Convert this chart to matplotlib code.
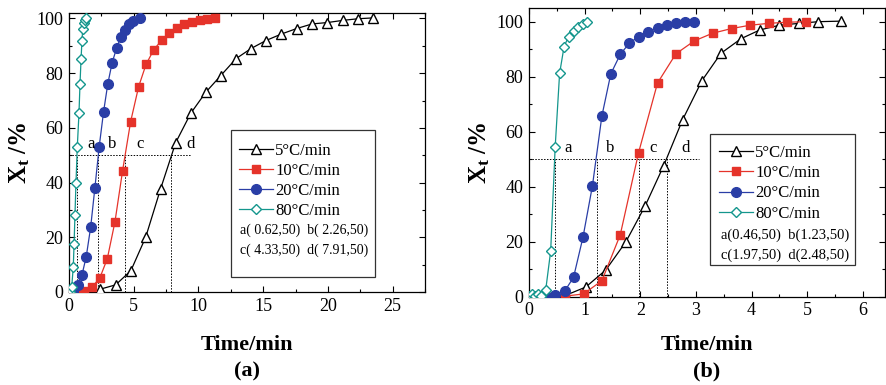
import matplotlib
matplotlib.use('Agg')
import matplotlib.pyplot as plt
from matplotlib.patches import Rectangle
from matplotlib.ticker import MultipleLocator

plt.rcParams['font.family'] = ['Liberation Serif', 'DejaVu Serif']
plt.rcParams['mathtext.fontset'] = 'custom'
plt.rcParams['mathtext.rm'] = 'Liberation Serif'
plt.rcParams['mathtext.bf'] = 'Liberation Serif:bold'
plt.rcParams['mathtext.it'] = 'Liberation Serif:italic'

# ---- data, panel (a)
t5a = [2.39, 3.6, 4.78, 5.92, 7.08, 8.24, 9.4, 10.56, 11.72, 12.9, 14.06, 15.2,
       16.4, 17.58, 18.78, 19.96, 21.16, 22.34, 23.5]
x5a = [1.0, 2.6, 7.8, 20.0, 37.8, 54.6, 65.3, 73.0, 79.1, 85.3, 89.0, 91.9,
       94.3, 96.3, 98.0, 98.5, 99.3, 99.9, 100.2]
t10a = [0.58, 1.16, 1.75, 2.37, 2.96, 3.55, 4.14, 4.76, 5.38, 5.95, 6.54, 7.16,
        7.74, 8.33, 8.92, 9.51, 10.1, 10.68, 11.3]
x10a = [0.0, 0.5, 1.7, 5.0, 12.2, 25.7, 44.4, 62.3, 75.1, 83.2, 88.5, 92.1,
        94.8, 96.5, 97.8, 98.7, 99.4, 99.9, 100.0]
t20a = [0.33, 0.67, 1.0, 1.33, 1.67, 2.0, 2.33, 2.67, 3.0, 3.33, 3.68, 3.99,
        4.32, 4.66, 4.97, 5.48]
x20a = [0.5, 2.6, 6.2, 12.9, 23.6, 38.1, 53.1, 65.9, 76.2, 83.8, 89.2, 93.1,
        95.8, 98.0, 99.2, 100.0]
t80a = [0.08, 0.21, 0.33, 0.39, 0.46, 0.54, 0.64, 0.77, 0.85, 0.93, 1.0, 1.06,
        1.16, 1.26, 1.31]
x80a = [0.1, 1.9, 9.2, 17.4, 28.2, 40.0, 53.1, 65.3, 76.2, 85.1, 91.9, 96.0,
        98.4, 99.6, 100.2]
half_a = [0.62, 2.26, 4.33, 7.91]
letters_a = ['a', 'b', 'c', 'd']
letter_xa = [1.4, 3.0, 5.2, 9.1]

# ---- data, panel (b)
t5b = [0.66, 1.02, 1.38, 1.74, 2.09, 2.42, 2.76, 3.11, 3.45, 3.81, 4.15, 4.5,
       4.86, 5.2, 5.61]
x5b = [0.5, 3.5, 9.7, 19.9, 33.1, 47.6, 64.3, 78.6, 88.5, 93.8, 97.0, 98.7,
       99.4, 100.0, 100.2]
t10b = [0.33, 0.65, 0.98, 1.31, 1.64, 1.97, 2.31, 2.64, 2.97, 3.3, 3.64, 3.97,
        4.31, 4.64, 4.98]
x10b = [0.0, 0.2, 1.0, 5.8, 22.5, 52.4, 77.7, 88.3, 93.0, 95.8, 97.5, 98.7,
        99.4, 99.8, 100.0]
t20b = [0.31, 0.47, 0.64, 0.8, 0.97, 1.14, 1.31, 1.47, 1.64, 1.8, 1.97, 2.14,
        2.31, 2.48, 2.64, 2.81, 2.97]
x20b = [0.2, 0.6, 2.0, 7.0, 21.6, 40.3, 65.7, 81.0, 88.1, 92.1, 94.6, 96.4,
        97.7, 98.8, 99.5, 99.9, 100.0]
t80b = [0.0, 0.05, 0.11, 0.16, 0.22, 0.3, 0.39, 0.47, 0.55, 0.63, 0.71, 0.8,
        0.88, 0.97, 1.05]
x80b = [0.3, 1.0, 0.2, 1.1, 0.4, 2.4, 16.7, 54.3, 81.2, 90.9, 94.6, 96.7,
        98.2, 99.3, 99.9]
half_b = [0.46, 1.23, 1.97, 2.48]
letter_xb = [0.63, 1.38, 2.16, 2.73]

labels = ['5°C/min', '10°C/min', '20°C/min', '80°C/min']
colors = ['black', '#e5332a', '#2a3ea6', '#14968d']
markers = ['^', 's', 'o', 'D']
mfc = ['white', '#e5332a', '#2a3ea6', 'white']
msize = [7, 6, 7, 5.5]

fig = plt.figure(figsize=(8.87, 3.85), dpi=100)
axa = fig.add_axes([0.0778, 0.2416, 0.4014, 0.7247])
axb = fig.add_axes([0.5964, 0.2294, 0.4014, 0.7500])


def draw(ax, series, half, letter_x, hline_end, xlim, ylim, xmaj, xmin,
         box, leg_anchor, notes, note_y, note_fs):
    handles = []
    for i, (t, x) in enumerate(series):
        h, = ax.plot(t, x, color=colors[i], lw=0.9, marker=markers[i],
                     ms=msize[i], mfc=mfc[i], mec=colors[i], mew=1.0,
                     label=labels[i], zorder=3)
        handles.append(h)
    ax.plot([0, hline_end], [50, 50], color='black', ls=(0, (1.5, 1.5)),
            lw=0.7, zorder=2)
    for hx, lx, lt in zip(half, letter_x, letters_a):
        ax.plot([hx, hx], [0, 50], color='black', ls=(0, (1.5, 1.5)),
                lw=0.7, zorder=2)
        ax.text(lx, 51, lt, fontsize=12, ha='left', va='bottom')
    ax.set_xlim(*xlim)
    ax.set_ylim(*ylim)
    ax.xaxis.set_major_locator(MultipleLocator(xmaj))
    ax.xaxis.set_minor_locator(MultipleLocator(xmin))
    ax.yaxis.set_major_locator(MultipleLocator(20))
    ax.yaxis.set_minor_locator(MultipleLocator(10))
    ax.tick_params(which='both', direction='in', top=True, right=True,
                   labelsize=13, pad=4)
    ax.tick_params(which='major', length=4, width=0.8)
    ax.tick_params(which='minor', length=2.5, width=0.8)
    for s in ax.spines.values():
        s.set_linewidth(0.9)
    ax.set_ylabel(r'$\mathbf{X_t}$ /%', fontsize=18, fontweight='bold',
                  labelpad=3)
    ax.add_patch(Rectangle((box[0], box[1]), box[2], box[3],
                           transform=ax.transAxes, fill=False, lw=0.9,
                           ec='#333333', zorder=4))
    ax.legend(handles=handles, loc='upper left', bbox_to_anchor=leg_anchor,
              frameon=False, fontsize=12, handlelength=2.0,
              handletextpad=0.15, labelspacing=0.25, borderpad=0,
              borderaxespad=0)
    for ny, nt in zip(note_y, notes):
        ax.text(leg_anchor[0] + 0.003, ny, nt, transform=ax.transAxes,
                fontsize=note_fs, ha='left', va='center')


draw(axa, [(t5a, x5a), (t10a, x10a), (t20a, x20a), (t80a, x80a)],
     half_a, letter_xa, 9.4, (0, 27.5), (0, 102), 5, 2.5,
     (0.454, 0.055, 0.406, 0.526), (0.478, 0.535),
     ['a( 0.62,50)  b( 2.26,50)', 'c( 4.33,50)  d( 7.91,50)'],
     [0.222, 0.151], 10)
draw(axb, [(t5b, x5b), (t10b, x10b), (t20b, x20b), (t80b, x80b)],
     half_b, letter_xb, 3.05, (0, 6.4), (0, 105), 1, 0.5,
     (0.508, 0.11, 0.408, 0.454), (0.535, 0.525),
     ['a(0.46,50)  b(1.23,50)', 'c(1.97,50)  d(2.48,50)'],
     [0.214, 0.144], 10.5)

fig.text(0.278, 0.104, 'Time/min', fontsize=16, fontweight='bold',
         ha='center', va='center')
fig.text(0.797, 0.104, 'Time/min', fontsize=16, fontweight='bold',
         ha='center', va='center')
fig.text(0.278, 0.034, '(a)', fontsize=16, fontweight='bold',
         ha='center', va='center')
fig.text(0.797, 0.034, '(b)', fontsize=16, fontweight='bold',
         ha='center', va='center')

fig.savefig('out.png', dpi=100)
